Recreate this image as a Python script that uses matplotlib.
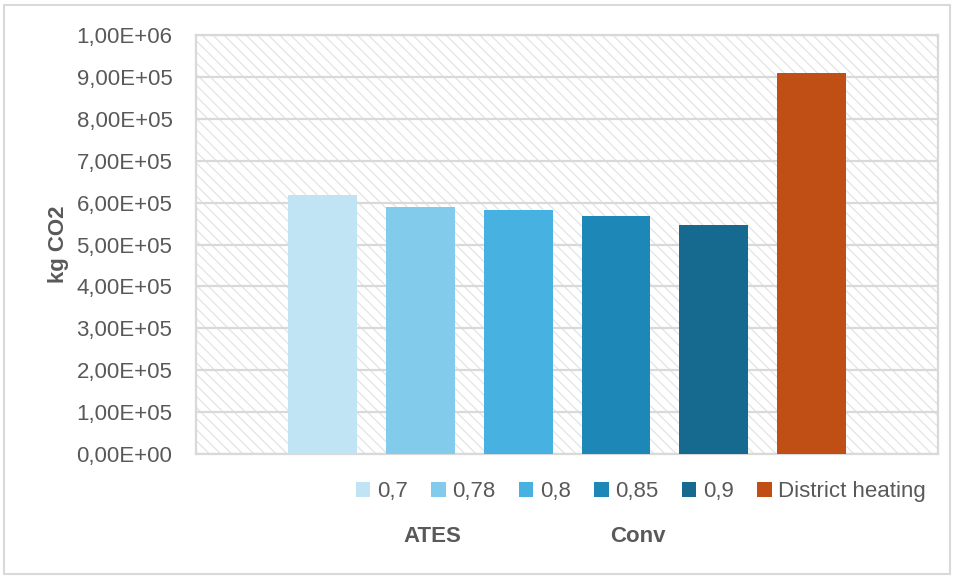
import numpy as np
import matplotlib.pyplot as plt
from matplotlib.patches import Rectangle
from matplotlib.ticker import FuncFormatter

plt.rcParams['font.family'] = ['Liberation Sans', 'DejaVu Sans']
plt.rcParams['hatch.linewidth'] = 0.9

# CO2 emissions per scenario (kg CO2)
series = ['0,7', '0,78', '0,8', '0,85', '0,9', 'District heating']
values = [6.18e5, 5.90e5, 5.82e5, 5.68e5, 5.47e5, 9.09e5]
colors = ['#C1E4F5', '#83CBEB', '#47B1E1', '#1D88B8', '#166A8F', '#C04F15']
groups = ['ATES', 'Conv']

grey_txt = '#595959'
grey_line = '#D9D9D9'
fs = 16


def sci_comma(v, pos):
    s = '%.2E' % v
    return s.replace('.', ',')


fig = plt.figure(figsize=(9.54, 5.77), dpi=100)
ax = fig.add_axes([0.2055, 0.2132, 0.7777, 0.7261])

# hatched plot area background
ax.add_patch(Rectangle((0, 0), 1, 1, transform=ax.transAxes, facecolor='white',
                       edgecolor='#E3E3E3', hatch='\\\\\\', linewidth=0, zorder=0))

x = np.arange(len(series))
bars = ax.bar(x, values, width=0.704, color=colors, zorder=3)

ax.set_xlim(-1.286, 6.286)
ax.set_ylim(0, 1e6)
ax.set_yticks(np.arange(0, 1.01e6, 1e5))
ax.yaxis.set_major_formatter(FuncFormatter(sci_comma))
ax.set_xticks([])
ax.grid(axis='y', color=grey_line, linewidth=1.6, zorder=1)
ax.tick_params(axis='y', length=0, pad=17, labelsize=fs, labelcolor=grey_txt)
for sp in ax.spines.values():
    sp.set_color(grey_line)
    sp.set_linewidth(1.6)

ax.set_ylabel('kg CO2', fontsize=fs, fontweight='bold', color=grey_txt, labelpad=5)

fig.legend(bars, series, loc='center', bbox_to_anchor=(641 / 954, 1 - 492 / 577),
           ncol=6, frameon=False, fontsize=fs, labelcolor=grey_txt,
           handlelength=0.65, handleheight=0.65, handletextpad=0.3,
           columnspacing=1.05, borderaxespad=0)

fig.text(432 / 954, 1 - 537 / 577, groups[0], ha='center', va='center',
         fontsize=fs, fontweight='bold', color=grey_txt)
fig.text(638 / 954, 1 - 537 / 577, groups[1], ha='center', va='center',
         fontsize=fs, fontweight='bold', color=grey_txt)

# outer chart frame
fig.add_artist(Rectangle((4 / 954, 3 / 577), 946 / 954, 569 / 577,
                         transform=fig.transFigure, fill=False,
                         edgecolor=grey_line, linewidth=1.5))

fig.savefig('out.png', dpi=100)
